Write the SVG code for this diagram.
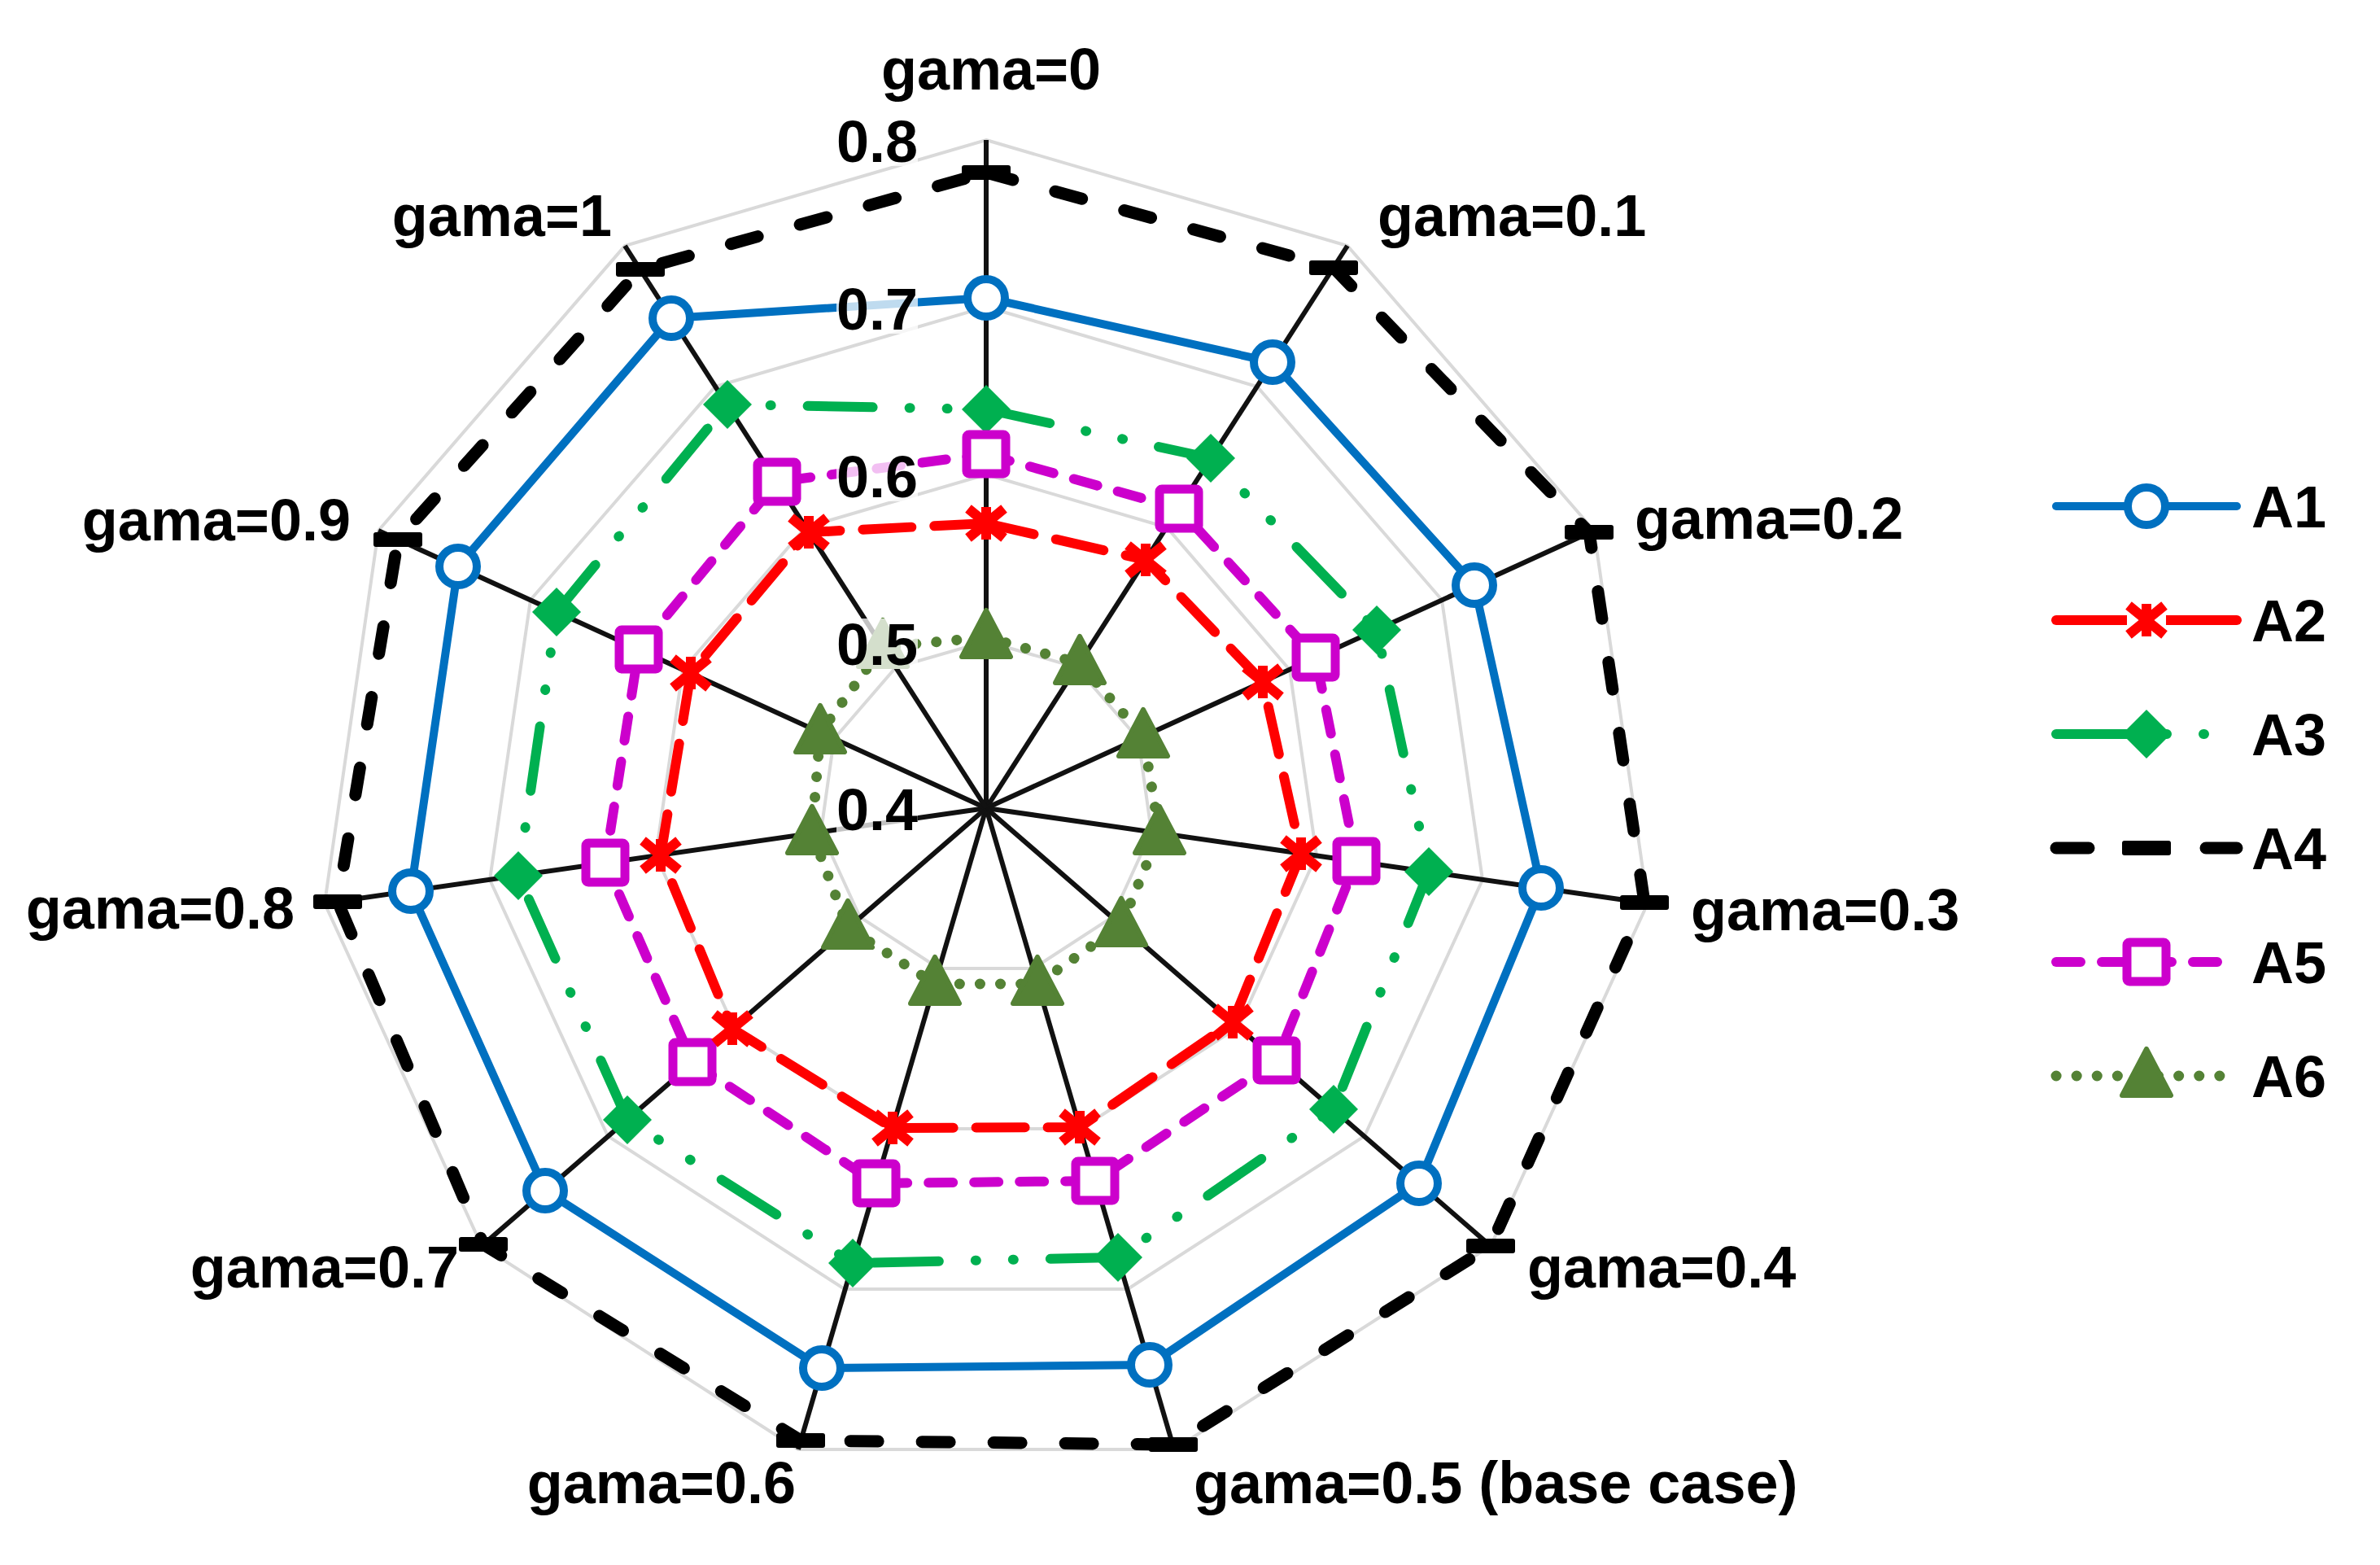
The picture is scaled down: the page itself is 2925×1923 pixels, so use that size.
<svg xmlns="http://www.w3.org/2000/svg" xmlns:xlink="http://www.w3.org/1999/xlink" width="2925" height="1923" viewBox="0 0 2925 1923">
<style>
text{font-family:"Liberation Sans",Arial,sans-serif;font-weight:bold;fill:#000}
.lab{font-size:72px}
.tick{font-size:72px;text-anchor:end}
.grid{fill:none;stroke:#d9d9d9;stroke-width:4}
.axis{stroke:#111;stroke-width:6}
.s1{fill:none;stroke:#0070C0;stroke-width:10;stroke-linejoin:round;stroke-linecap:round}
.s2{fill:none;stroke:#FF0000;stroke-width:12;stroke-dasharray:60 28;stroke-linecap:round;stroke-linejoin:round}
.s3{fill:none;stroke:#00B050;stroke-width:12;stroke-dasharray:80 45 1 45 1 45;stroke-linecap:round}
.s4{fill:none;stroke:#000;stroke-width:15;stroke-dasharray:34 54;stroke-linecap:round}
.s5{fill:none;stroke:#CC00CC;stroke-width:12;stroke-dasharray:30 26;stroke-linecap:round}
.s6{fill:none;stroke:#548235;stroke-width:13;stroke-dasharray:0.1 25;stroke-linecap:round}
</style>
<defs>
<circle id="m1" r="23" fill="#fff" stroke="#0070C0" stroke-width="10"/>
<g id="m2" stroke="#FF0000" stroke-width="12"><line x1="-22" y1="-18" x2="22" y2="18"/><line x1="-22" y1="18" x2="22" y2="-18"/><line x1="0" y1="-20" x2="0" y2="20"/></g>
<polygon id="m3" points="0,-30 30,0 0,30 -30,0" fill="#00B050"/>
<rect id="m4" x="-30" y="-9" width="60" height="18" rx="3" fill="#000"/>
<rect id="m5" x="-24" y="-24" width="48" height="48" fill="#fff" stroke="#CC00CC" stroke-width="11" rx="3"/>
<polygon id="m6" points="0,-33 30,24 -30,24" fill="#548235" stroke="#548235" stroke-width="6" stroke-linejoin="round"/>
</defs>
<rect width="2925" height="1923" fill="#fff"/>
<g id="grid" transform="translate(1212 993)">
<polygon class="grid" points="0,-205 111,-173 187,-85 203,29 155,134 58,197 -58,197 -155,134 -203,29 -187,-85 -111,-173"/>
<polygon class="grid" points="0,-410 222,-345 373,-170 406,58 310,269 116,394 -116,394 -310,269 -406,58 -373,-170 -222,-345"/>
<polygon class="grid" points="0,-616 333,-518 560,-256 610,88 465,403 174,591 -174,591 -465,403 -610,88 -560,-256 -333,-518"/>
<polygon class="grid" points="0,-821 444,-691 747,-341 813,117 620,538 231,788 -231,788 -620,538 -813,117 -747,-341 -444,-691"/>
<g class="axis">
<line x1="0" y1="0" x2="0" y2="-821"/><line x1="0" y1="0" x2="444" y2="-691"/><line x1="0" y1="0" x2="747" y2="-341"/><line x1="0" y1="0" x2="813" y2="117"/><line x1="0" y1="0" x2="620" y2="538"/><line x1="0" y1="0" x2="231" y2="788"/><line x1="0" y1="0" x2="-231" y2="788"/><line x1="0" y1="0" x2="-620" y2="538"/><line x1="0" y1="0" x2="-813" y2="117"/><line x1="0" y1="0" x2="-747" y2="-341"/><line x1="0" y1="0" x2="-444" y2="-691"/>
</g>
</g>
<g id="series">
<polygon id="A4" class="s4" points="1212,212 1639,329 1953,654 2021,1109 1832,1531 1442,1775 984,1770 594,1529 415,1108 489,663 787,331"/>
<polygon id="A1" class="s1" points="1212,366 1564,445 1812,719 1894,1091 1744,1454 1413,1677 1010,1681 670,1463 505,1095 563,696 825,391"/>
<polygon id="A3" class="s3" points="1212,503 1488,563 1692,774 1756,1071 1639,1363 1374,1545 1048,1552 771,1376 637,1076 684,752 894,497"/>
<polygon id="A5" class="s5" points="1212,558 1449,625 1617,808 1667,1058 1569,1303 1346,1451 1077,1454 851,1305 744,1060 785,798 955,592"/>
<polygon id="A2" class="s2" points="1212,643 1408,688 1552,838 1599,1049 1515,1256 1327,1385 1097,1386 900,1264 812,1051 849,827 994,654"/>
<polygon id="A6" class="s6" points="1212,783 1327,815 1405,905 1425,1024 1378,1137 1275,1209 1149,1209 1042,1140 998,1024 1008,900 1085,795"/>
</g>
<g id="markers">
<use href="#m4" x="1212" y="212"/><use href="#m4" x="1639" y="329"/><use href="#m4" x="1953" y="654"/><use href="#m4" x="2021" y="1109"/><use href="#m4" x="1832" y="1531"/><use href="#m4" x="1442" y="1775"/><use href="#m4" x="984" y="1770"/><use href="#m4" x="594" y="1529"/><use href="#m4" x="415" y="1108"/><use href="#m4" x="489" y="663"/><use href="#m4" x="787" y="331"/>
<use href="#m1" x="1212" y="366"/><use href="#m1" x="1564" y="445"/><use href="#m1" x="1812" y="719"/><use href="#m1" x="1894" y="1091"/><use href="#m1" x="1744" y="1454"/><use href="#m1" x="1413" y="1677"/><use href="#m1" x="1010" y="1681"/><use href="#m1" x="670" y="1463"/><use href="#m1" x="505" y="1095"/><use href="#m1" x="563" y="696"/><use href="#m1" x="825" y="391"/>
<use href="#m3" x="1212" y="503"/><use href="#m3" x="1488" y="563"/><use href="#m3" x="1692" y="774"/><use href="#m3" x="1756" y="1071"/><use href="#m3" x="1639" y="1363"/><use href="#m3" x="1374" y="1545"/><use href="#m3" x="1048" y="1552"/><use href="#m3" x="771" y="1376"/><use href="#m3" x="637" y="1076"/><use href="#m3" x="684" y="752"/><use href="#m3" x="894" y="497"/>
<use href="#m5" x="1212" y="558"/><use href="#m5" x="1449" y="625"/><use href="#m5" x="1617" y="808"/><use href="#m5" x="1667" y="1058"/><use href="#m5" x="1569" y="1303"/><use href="#m5" x="1346" y="1451"/><use href="#m5" x="1077" y="1454"/><use href="#m5" x="851" y="1305"/><use href="#m5" x="744" y="1060"/><use href="#m5" x="785" y="798"/><use href="#m5" x="955" y="592"/>
<use href="#m2" x="1212" y="643"/><use href="#m2" x="1408" y="688"/><use href="#m2" x="1552" y="838"/><use href="#m2" x="1599" y="1049"/><use href="#m2" x="1515" y="1256"/><use href="#m2" x="1327" y="1385"/><use href="#m2" x="1097" y="1386"/><use href="#m2" x="900" y="1264"/><use href="#m2" x="812" y="1051"/><use href="#m2" x="849" y="827"/><use href="#m2" x="994" y="654"/>
<use href="#m6" x="1212" y="783"/><use href="#m6" x="1327" y="815"/><use href="#m6" x="1405" y="905"/><use href="#m6" x="1425" y="1024"/><use href="#m6" x="1378" y="1137"/><use href="#m6" x="1275" y="1209"/><use href="#m6" x="1149" y="1209"/><use href="#m6" x="1042" y="1140"/><use href="#m6" x="998" y="1024"/><use href="#m6" x="1008" y="900"/><use href="#m6" x="1085" y="795"/>
</g>
<g id="ticks">
<g fill="#fff" opacity="0.75">
<rect x="1028" y="142" width="100" height="62"/><rect x="1028" y="348" width="100" height="62"/><rect x="1028" y="554" width="100" height="62"/><rect x="1028" y="760" width="100" height="62"/><rect x="1028" y="963" width="100" height="62"/>
</g>
<text class="tick" x="1128" y="199">0.8</text>
<text class="tick" x="1128" y="405">0.7</text>
<text class="tick" x="1128" y="611">0.6</text>
<text class="tick" x="1128" y="817">0.5</text>
<text class="tick" x="1128" y="1020">0.4</text>
</g>
<g id="labels" class="lab">
<text class="lab" x="1218" y="110" text-anchor="middle">gama=0</text>
<text class="lab" x="1693" y="290">gama=0.1</text>
<text class="lab" x="2009" y="662">gama=0.2</text>
<text class="lab" x="2078" y="1143">gama=0.3</text>
<text class="lab" x="1877" y="1582">gama=0.4</text>
<text class="lab" x="1467" y="1847">gama=0.5 (base case)</text>
<text class="lab" x="978" y="1847" text-anchor="end">gama=0.6</text>
<text class="lab" x="564" y="1582" text-anchor="end">gama=0.7</text>
<text class="lab" x="362" y="1141" text-anchor="end">gama=0.8</text>
<text class="lab" x="431" y="664" text-anchor="end">gama=0.9</text>
<text class="lab" x="752" y="290" text-anchor="end">gama=1</text>
</g>
<g id="legend">
<line class="s1" x1="2527" y1="622" x2="2749" y2="622"/><use href="#m1" x="2638" y="622"/><text class="lab" x="2767" y="648">A1</text>
<line class="s2" x1="2527" y1="762" x2="2749" y2="762" style="stroke-dasharray:none"/><rect x="2614" y="745" width="48" height="34" fill="#fff"/><use href="#m2" x="2638" y="762"/><text class="lab" x="2767" y="788">A2</text>
<line class="s3" x1="2527" y1="902" x2="2749" y2="902" style="stroke-dasharray:90 45 1 45 1 45"/><use href="#m3" x="2638" y="902"/><text class="lab" x="2767" y="928">A3</text>
<line class="s4" x1="2527" y1="1042" x2="2749" y2="1042" style="stroke-dasharray:40 52"/><use href="#m4" x="2638" y="1042"/><text class="lab" x="2767" y="1068">A4</text>
<line class="s5" x1="2527" y1="1182" x2="2749" y2="1182"/><use href="#m5" x="2638" y="1182"/><text class="lab" x="2767" y="1208">A5</text>
<line class="s6" x1="2527" y1="1322" x2="2749" y2="1322"/><use href="#m6" x="2638" y="1322"/><text class="lab" x="2767" y="1348">A6</text>
</g>
</svg>
